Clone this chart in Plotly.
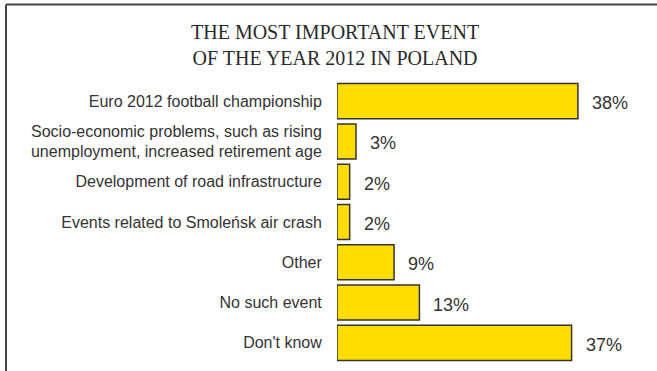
import plotly.graph_objects as go

categories = [
    "Euro 2012 football championship",
    "Socio-economic problems, such as rising<br>unemployment, increased retirement age",
    "Development of road infrastructure",
    "Events related to Smoleńsk air crash",
    "Other",
    "No such event",
    "Don't know",
]
values = [38, 3, 2, 2, 9, 13, 37]
value_labels = ["38%", "3%", "2%", "2%", "9%", "13%", "37%"]
title_text = "THE MOST IMPORTANT EVENT<br>OF THE YEAR 2012 IN POLAND"

W, H = 657, 371
ML, MR, MT, MB = 337, 20, 81, 8
pw = W - ML - MR
ph = H - MT - MB

fig = go.Figure(go.Bar(
    y=categories, x=values, orientation="h",
    marker=dict(color="#FFDD00", line=dict(color="#333333", width=1.5)),
    width=0.87,
    hoverinfo="skip",
))

annotations = []
for c, v, t in zip(categories, values, value_labels):
    annotations.append(dict(x=v, y=c, xref="x", yref="y", text=t, showarrow=False,
                            xanchor="left", xshift=12, yshift=-2,
                            font=dict(family="Liberation Sans, Arial", size=18, color="#333333")))

def px2py(y):
    return 1 + (MT - y) / ph

def px2px(x):
    return (x - ML) / pw

annotations.append(dict(x=px2px(335), y=px2py(45), xref="paper", yref="paper", text=title_text,
                        showarrow=False, xanchor="center", yanchor="middle",
                        font=dict(family="Liberation Serif, Times New Roman", size=20, color="#2a2a2a")))

shapes = [
    dict(type="line", xref="paper", yref="paper", x0=px2px(6), x1=px2px(6), y0=px2py(4.5), y1=px2py(371),
         line=dict(color="#444444", width=2)),
    dict(type="line", xref="paper", yref="paper", x0=px2px(6), x1=px2px(657), y0=px2py(4.5), y1=px2py(4.5),
         line=dict(color="#444444", width=2)),
]

fig.update_layout(
    width=W, height=H,
    margin=dict(l=ML, r=MR, t=MT, b=MB),
    paper_bgcolor="white", plot_bgcolor="white",
    showlegend=False,
    annotations=annotations,
    shapes=shapes,
    xaxis=dict(range=[0, pw / 6.34], showgrid=False, zeroline=False, showticklabels=False,
               showline=False, fixedrange=True),
    yaxis=dict(autorange="reversed", showgrid=False, zeroline=False, showline=False,
               ticks="outside", ticklen=11, tickcolor="rgba(0,0,0,0)",
               tickfont=dict(family="Liberation Sans, Arial", size=16, color="#333333"),
               fixedrange=True),
)

fig.write_html("out.html")
